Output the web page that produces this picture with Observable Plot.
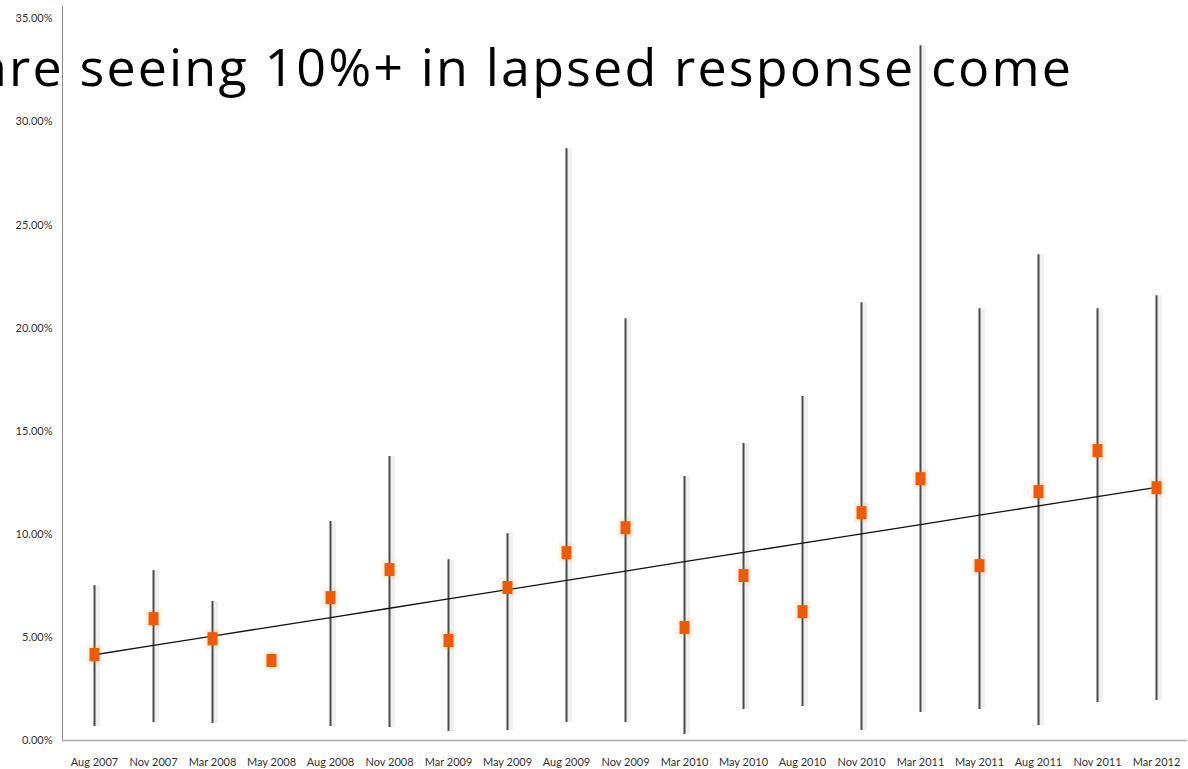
<!DOCTYPE html>
<html>
<head>
<meta charset="utf-8">
<script src="https://cdn.jsdelivr.net/npm/d3@7"></script>
<script src="https://cdn.jsdelivr.net/npm/@observablehq/plot@0.6"></script>
<style>
  body { margin: 0; background: #fff; }
  #wrap { position: relative; width: 1188px; height: 769px; overflow: hidden; }
  #headline { position: absolute; left: 0; top: 0; pointer-events: none; }
</style>
</head>
<body>
<div id="wrap"></div>
<script>
// Survey waves
const periods = ["Aug 2007", "Nov 2007", "Mar 2008", "May 2008", "Aug 2008", "Nov 2008",
  "Mar 2009", "May 2009", "Aug 2009", "Nov 2009", "Mar 2010", "May 2010", "Aug 2010",
  "Nov 2010", "Mar 2011", "May 2011", "Aug 2011", "Nov 2011", "Mar 2012"];

// Lowest and highest lapsed response rate seen in each wave (%)
const lows  = [0.68, 0.87, 0.82, 3.70, 0.68, 0.63, 0.44, 0.48, 0.87, 0.87,
  0.29, 1.50, 1.65, 0.48, 1.36, 1.50, 0.73, 1.84, 1.94];
const highs = [7.51, 8.24, 6.74, 4.15, 10.62, 13.77, 8.77, 10.03, 28.70, 20.46,
  12.80, 14.40, 16.68, 21.23, 33.70, 20.94, 23.56, 20.94, 21.57];

// Average lapsed response rate per wave (%)
const rates = [4.17, 5.91, 4.94, 3.88, 6.93, 8.29, 4.85, 7.42, 9.11, 10.32,
  5.48, 8.00, 6.25, 11.05, 12.70, 8.48, 12.07, 14.06, 12.26];

const yTicks = [0, 5, 10, 15, 20, 25, 30, 35];

const headline = "are seeing 10%+ in lapsed response come";

const rows = periods.map((period, i) => ({period, i, low: lows[i], high: highs[i], rate: rates[i]}));

// Least-squares linear trend of the average rate across waves
const mx = d3.mean(rows, d => d.i);
const my = d3.mean(rows, d => d.rate);
const slope = d3.sum(rows, d => (d.i - mx) * (d.rate - my)) / d3.sum(rows, d => (d.i - mx) ** 2);
rows.forEach(d => { d.trend = my + slope * (d.i - mx); });

// Tall square marker and its soft glow
const marker = {draw(ctx) { ctx.rect(-5, -6.5, 10, 13); }};
const glow = {draw(ctx) { ctx.rect(-8, -10, 16, 20); }};

const chart = Plot.plot({
  width: 1188,
  height: 769,
  marginLeft: 62,
  marginRight: 1,
  marginTop: 6,
  marginBottom: 29,
  style: {fontFamily: "Lato, sans-serif", fontSize: "11px", color: "#333", background: "transparent"},
  x: {type: "point", domain: periods, padding: 0.5, label: null},
  y: {domain: [0, 35.6], label: null},
  marks: [
    Plot.axisY({ticks: yTicks, tickSize: 0, tickPadding: 10, tickFormat: d => d.toFixed(2) + "%", label: null}),
    Plot.axisX({tickSize: 0, tickPadding: 18, label: null}),
    Plot.frame({anchor: "left", stroke: "#8a8a8a"}),
    Plot.ruleY([0], {stroke: "#a8a8a8", strokeWidth: 1.5}),
    // shadow behind each high-low line
    Plot.ruleX(rows, {x: "period", y1: "low", y2: "high", stroke: "#000", strokeOpacity: 0.06, strokeWidth: 5, dx: 3}),
    Plot.ruleX(rows, {x: "period", y1: "low", y2: "high", stroke: "#4a4a4a", strokeWidth: 2}),
    Plot.line(rows, {x: "period", y: "trend", stroke: "#111", strokeWidth: 1.3}),
    Plot.dot(rows, {x: "period", y: "rate", symbol: glow, fill: "#f7931e", fillOpacity: 0.12}),
    Plot.dot(rows, {x: "period", y: "rate", symbol: marker, fill: "#ee5a0c"})
  ]
});

const wrap = document.getElementById("wrap");
wrap.appendChild(chart);

// Large headline laid over the top of the chart
const head = d3.create("svg")
  .attr("id", "headline")
  .attr("width", 1188)
  .attr("height", 120);
head.append("text")
  .attr("x", -22)
  .attr("y", 86)
  .attr("textLength", 1093)
  .attr("lengthAdjust", "spacing")
  .attr("font-family", "'Open Sans', sans-serif")
  .attr("font-size", 52)
  .attr("fill", "#000")
  .text(headline);
wrap.appendChild(head.node());
</script>
</body>
</html>
